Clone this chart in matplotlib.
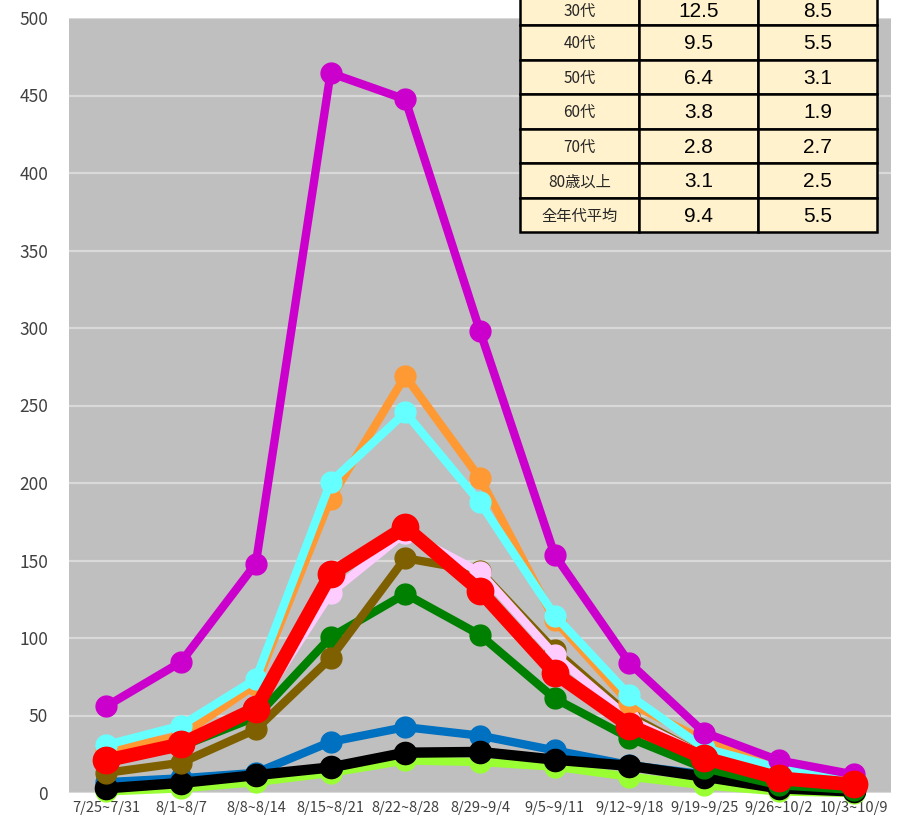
import matplotlib
matplotlib.use("Agg")
import matplotlib.pyplot as plt
from matplotlib.patches import Rectangle

plt.rcParams['font.family'] = ['Noto Sans CJK JP', 'DejaVu Sans']

weeks = ['7/25~7/31', '8/1~8/7', '8/8~8/14', '8/15~8/21', '8/22~8/28', '8/29~9/4',
         '9/5~9/11', '9/12~9/18', '9/19~9/25', '9/26~10/2', '10/3~10/9']

s_lime = [1, 3, 7, 13, 21, 20, 17, 10.5, 5, 1, 0]
s_blue = [7, 9.5, 13, 33, 42.5, 37, 27.5, 18, 12, 3, 1]
s_black = [3, 6.5, 11.5, 16.5, 26, 26.5, 21.5, 17.5, 10.5, 3, 1]
s_green = [20, 30, 49, 100.5, 128.5, 102, 61, 35.5, 16, 5, 2]
s_brown = [13, 19.5, 41, 87, 151.5, 143, 92, 50, 24, 11, 5]
s_pink = [24, 35, 54, 129, 168, 142.5, 89, 48, 24, 11, 6]
s_orange = [27, 37, 70, 190, 269, 203, 111.5, 58, 34, 15, 10]
s_cyan = [31, 43.5, 73.5, 200.5, 245.5, 187.5, 114.5, 63, 29, 16, 11]
s_magenta = [56, 84.5, 148, 464.5, 447.5, 298, 153.5, 84, 39, 21, 12]
s_red = [21, 31.5, 54.5, 141, 171.5, 130.5, 77.5, 43.5, 22.5, 9.5, 5.5]

yticks = [0, 50, 100, 150, 200, 250, 300, 350, 400, 450, 500]

tbl_labels = ['30代', '40代', '50代', '60代', '70代', '80歳以上', '全年代平均']
tbl_col1 = ['12.5', '9.5', '6.4', '3.8', '2.8', '3.1', '9.4']
tbl_col2 = ['8.5', '5.5', '3.1', '1.9', '2.7', '2.5', '5.5']

W, H = 908, 817
fig = plt.figure(figsize=(W / 100, H / 100), dpi=100)
fig.patch.set_facecolor('white')
ax = fig.add_axes([69 / W, 1 - 793 / H, (891 - 69) / W, (793 - 18) / H])
ax.set_facecolor('#BFBFBF')
for sp in ax.spines.values():
    sp.set_visible(False)

x = list(range(len(weeks)))
series = [
    (s_lime, '#99FF33', 6, 15),
    (s_blue, '#0070C0', 6, 15),
    (s_black, '#000000', 7.5, 16),
    (s_green, '#008000', 6, 15),
    (s_brown, '#7F6000', 6, 15),
    (s_pink, '#FFCCFF', 6, 15),
    (s_orange, '#FF9933', 6, 15),
    (s_cyan, '#66FFFF', 6, 15),
    (s_magenta, '#CC00CC', 6, 15),
    (s_red, '#FF0000', 10, 19),
]
for i, (vals, col, lw, ms) in enumerate(series):
    ax.plot(x, vals, color=col, lw=lw, marker='o', ms=ms, mec=col, mfc=col,
            solid_joinstyle='round', zorder=3 + i, clip_on=False)

ax.set_xlim(-0.5, len(weeks) - 0.5)
ax.set_ylim(0, 500)
ax.set_yticks(yticks)
ax.set_yticklabels([str(v) for v in yticks], fontsize=12.5, color='#404040')
ax.set_xticks(x)
ax.set_xticklabels(weeks, fontsize=10.5, color='#404040')
ax.tick_params(length=0)
ax.tick_params(axis='y', pad=15)
ax.tick_params(axis='x', pad=6)
ax.grid(axis='y', color='#D9D9D9', lw=1.6, zorder=1)
ax.set_axisbelow(True)

# table overlay
ov = fig.add_axes([0, 0, 1, 1], zorder=20)
ov.set_xlim(0, W)
ov.set_ylim(H, 0)
ov.axis('off')
cols = [520, 639, 758, 877]
row_h = 34.5
top = 25 - row_h
for r in range(len(tbl_labels)):
    y0 = top + r * row_h
    cells = [tbl_labels[r], tbl_col1[r], tbl_col2[r]]
    for c in range(3):
        ov.add_patch(Rectangle((cols[c], y0), cols[c + 1] - cols[c], row_h,
                               facecolor='#FFF2CC', edgecolor='black', lw=1.8))
        yc = y0 + row_h / 2 + 1.5
        if r == 0:
            yc = max(yc, 11)
        if c == 0:
            ov.text((cols[c] + cols[c + 1]) / 2, yc, cells[c], ha='center',
                    va='center', fontsize=11, color='#262626')
        else:
            ov.text((cols[c] + cols[c + 1]) / 2, yc, cells[c], ha='center',
                    va='center', fontsize=15, color='black',
                    family=['Liberation Sans', 'DejaVu Sans'])

fig.savefig('out.png', dpi=100, facecolor='white')
